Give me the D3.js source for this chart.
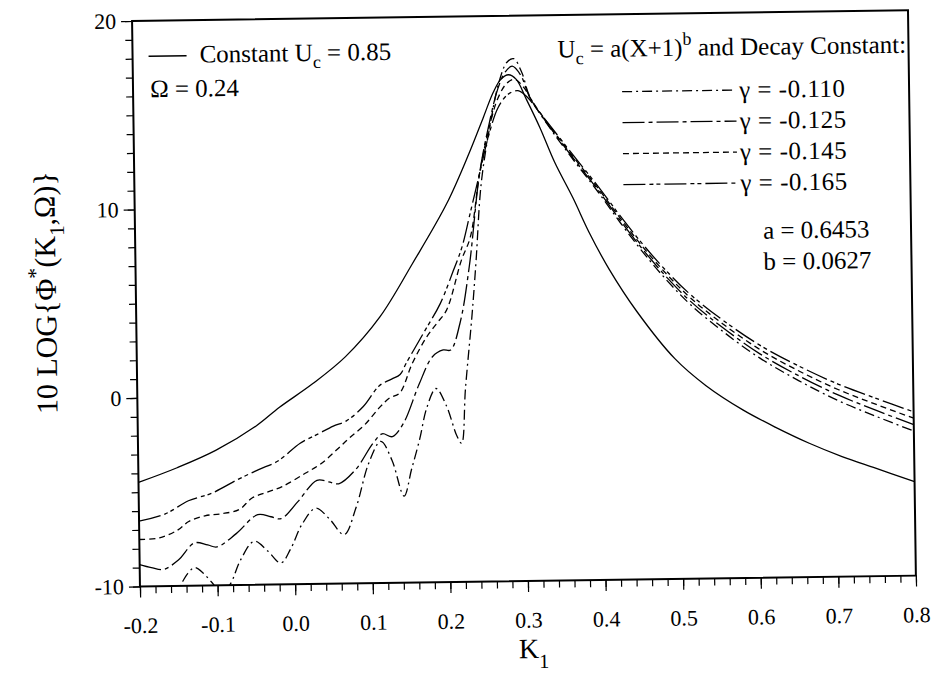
<!DOCTYPE html>
<html><head><meta charset="utf-8">
<script src="https://cdn.jsdelivr.net/npm/d3@7"></script>
<style>body{margin:0;background:#fff}text{font-family:"Liberation Serif","Times New Roman",serif;fill:#000}</style>
</head><body>
<svg id="c" width="936" height="678"></svg>
<script>
// ---- data (K1, 10 LOG value) ----
const constantUc = [[-0.20,-4.48],[-0.15,-3.73],[-0.10,-2.84],[-0.047,-1.56],[-0.017,-0.60],[0.026,0.62],[0.069,2.04],[0.114,4.12],[0.157,6.93],[0.202,10.07],[0.232,12.75],[0.251,14.64],[0.264,15.94],[0.274,16.63],[0.284,16.87],[0.294,16.62],[0.306,15.61],[0.3235,14.05],[0.342,12.19],[0.365,10.28],[0.385,8.46],[0.41,6.5],[0.445,4.23],[0.493,1.7],[0.533,0.23],[0.58,-1.08],[0.622,-2.03],[0.665,-2.9],[0.707,-3.63],[0.75,-4.27],[0.80,-5.01]];
const gamma165 = [[-0.20,-6.54],[-0.166,-6.17],[-0.136,-5.49],[-0.106,-5.11],[-0.071,-4.38],[-0.045,-3.89],[-0.020,-3.45],[0.009,-2.52],[0.033,-2.03],[0.052,-1.64],[0.069,-1.37],[0.091,-0.62],[0.112,0.47],[0.128,0.81],[0.139,1.05],[0.147,1.64],[0.170,3.24],[0.192,4.78],[0.209,6.47],[0.221,7.76],[0.232,9.52],[0.245,11.65],[0.258,13.74],[0.270,15.13],[0.283,15.83],[0.296,16.02],[0.308,15.66],[0.318,15.15],[0.338,14.07],[0.367,12.5],[0.397,10.91],[0.426,9.27],[0.455,7.73],[0.485,6.3],[0.515,5.06],[0.555,3.72],[0.603,2.34],[0.653,1.2],[0.703,0.22],[0.752,-0.57],[0.80,-1.31]];
const gamma145 = [[-0.20,-7.51],[-0.174,-7.44],[-0.150,-7.03],[-0.136,-6.59],[-0.115,-6.3],[-0.095,-6.21],[-0.071,-6.0],[-0.054,-5.39],[-0.035,-5.1],[-0.015,-4.81],[0.015,-4.12],[0.035,-3.64],[0.056,-2.9],[0.073,-2.26],[0.093,-1.57],[0.112,-0.68],[0.125,-0.19],[0.138,0.06],[0.155,1.64],[0.174,3.03],[0.188,3.78],[0.200,4.43],[0.220,7.06],[0.232,8.29],[0.245,11.65],[0.258,14.04],[0.270,15.63],[0.282,16.43],[0.292,16.62],[0.304,16.16],[0.314,15.46],[0.338,14.02],[0.367,12.42],[0.397,10.81],[0.426,9.15],[0.455,7.59],[0.485,6.14],[0.515,4.88],[0.555,3.52],[0.603,2.11],[0.653,0.94],[0.703,-0.07],[0.752,-0.89],[0.80,-1.65]];
const gamma125 = [[-0.20,-8.84],[-0.185,-9.01],[-0.170,-9.12],[-0.150,-8.63],[-0.129,-7.73],[-0.112,-7.85],[-0.100,-7.96],[-0.075,-7.27],[-0.047,-6.28],[-0.030,-6.4],[-0.017,-6.51],[0.005,-5.62],[0.030,-4.5],[0.045,-4.59],[0.058,-4.7],[0.080,-3.96],[0.103,-2.57],[0.115,-2.08],[0.128,-2.24],[0.143,-1.5],[0.163,0.49],[0.181,1.97],[0.195,2.32],[0.2045,2.31],[0.217,3.71],[0.230,6.7],[0.245,11.65],[0.258,14.24],[0.270,16.13],[0.280,17.03],[0.289,17.32],[0.300,16.82],[0.311,15.66],[0.338,13.97],[0.367,12.34],[0.397,10.71],[0.426,9.03],[0.455,7.45],[0.485,5.98],[0.515,4.7],[0.555,3.32],[0.603,1.88],[0.653,0.68],[0.703,-0.36],[0.752,-1.21],[0.80,-1.99]];
const gamma110 = [[-0.20,-10.6],[-0.185,-10.91],[-0.170,-11.22],[-0.158,-10.62],[-0.148,-9.98],[-0.138,-9.34],[-0.129,-9.04],[-0.118,-9.35],[-0.108,-9.8],[-0.095,-10.36],[-0.084,-9.97],[-0.070,-8.68],[-0.052,-7.69],[-0.035,-8.2],[-0.018,-8.86],[-0.005,-8.11],[0.010,-6.82],[0.028,-5.98],[0.045,-6.54],[0.064,-7.4],[0.080,-5.96],[0.097,-3.63],[0.113,-2.48],[0.127,-3.49],[0.142,-5.4],[0.152,-4.0],[0.163,-2.41],[0.173,-0.71],[0.185,0.28],[0.198,-0.63],[0.211,-2.24],[0.217,-2.64],[0.223,0.26],[0.233,4.25],[0.239,7.05],[0.247,11.14],[0.260,14.34],[0.272,16.53],[0.282,17.52],[0.291,17.72],[0.301,17.01],[0.311,15.71],[0.338,13.92],[0.367,12.26],[0.397,10.61],[0.426,8.91],[0.455,7.31],[0.485,5.82],[0.515,4.52],[0.555,3.12],[0.603,1.65],[0.653,0.42],[0.703,-0.66],[0.752,-1.53],[0.80,-2.33]];

const xTickValues = [-0.2,-0.1,0.0,0.1,0.2,0.3,0.4,0.5,0.6,0.7,0.8];
const xTickLabels = ["-0.2","-0.1","0.0","0.1","0.2","0.3","0.4","0.5","0.6","0.7","0.8"];
const yTickValues = [-10,0,10,20];
const yTickLabels = ["-10","0","10","20"];
const gammaLabels = ["γ = -0.110","γ = -0.125","γ = -0.145","γ = -0.165"];

// ---- drawing ----
const svg = d3.select("#c");
const g = svg.append("g").attr("transform","rotate(-0.8,528,300)");
const x = d3.scaleLinear().domain([-0.2,0.8]).range([136,912]);
const y = d3.scaleLinear().domain([-10,20]).range([581,15.5]);

svg.append("defs").append("clipPath").attr("id","clip")
  .append("rect").attr("x",136).attr("y",15.5).attr("width",776).attr("height",565.5);

const xMinor = d3.range(0,51).map(i => -0.2 + i*0.02);
g.append("g").attr("transform","translate(0,581)")
  .call(d3.axisBottom(x).tickValues(xMinor).tickSize(7).tickFormat(""))
  .call(a => a.select(".domain").remove());
g.append("g").attr("transform","translate(0,581)")
  .call(d3.axisBottom(x).tickValues(xTickValues).tickSize(11).tickPadding(20)
    .tickFormat((d,i) => xTickLabels[i]))
  .call(a => a.select(".domain").remove())
  .call(a => a.selectAll("text").attr("font-size",22));

const yMinor = d3.range(-10,21);
g.append("g").attr("transform","translate(136,0)")
  .call(d3.axisLeft(y).tickValues(yMinor).tickSize(7).tickFormat(""))
  .call(a => a.select(".domain").remove());
g.append("g").attr("transform","translate(136,0)")
  .call(d3.axisLeft(y).tickValues(yTickValues).tickSize(11).tickPadding(5)
    .tickFormat((d,i) => yTickLabels[i]))
  .call(a => a.select(".domain").remove())
  .call(a => a.selectAll("text").attr("font-size",22));
g.selectAll(".tick line").attr("stroke","#000").attr("stroke-width",1.2);

g.append("rect").attr("x",136).attr("y",15.5).attr("width",776).attr("height",565.5)
  .attr("fill","none").attr("stroke","#000").attr("stroke-width",2);

const line = d3.line().x(d => x(d[0])).y(d => y(d[1])).curve(d3.curveCatmullRom.alpha(0.5));
const series = [
  {data: constantUc, dash: null},
  {data: gamma110, dash: "10,4,2,4"},
  {data: gamma125, dash: "22,4,4,4"},
  {data: gamma145, dash: "6,4"},
  {data: gamma165, dash: "22,4,4,3,4,4"}
];
const plot = g.append("g").attr("clip-path","url(#clip)");
series.forEach(s => {
  plot.append("path").attr("d", line(s.data)).attr("fill","none")
    .attr("stroke","#000").attr("stroke-width",1.3)
    .attr("stroke-dasharray", s.dash);
});

// legend left
g.append("line").attr("x1",152).attr("x2",190).attr("y1",51).attr("y2",51).attr("stroke","#000").attr("stroke-width",1.5);
const t1 = g.append("text").attr("x",203).attr("y",58).attr("font-size",25);
t1.append("tspan").text("Constant U");
t1.append("tspan").attr("dy",7).attr("font-size",18).text("c");
t1.append("tspan").attr("dy",-7).text(" = 0.85");
g.append("text").attr("x",153).attr("y",92).attr("font-size",25).text("Ω = 0.24");

// legend right
const t2 = g.append("text").attr("x",561).attr("y",58).attr("font-size",25);
t2.append("tspan").text("U");
t2.append("tspan").attr("dy",7).attr("font-size",18).text("c");
t2.append("tspan").attr("dy",-7).text(" = a(X+1)");
t2.append("tspan").attr("dy",-11).attr("font-size",18).text("b");
t2.append("tspan").attr("dy",11).text(" and Decay Constant:");

const legendDash = ["10,4,2,4","22,4,4,4","6,4","22,4,4,3,4,4"];
gammaLabels.forEach((lab,i) => {
  const by = 101 + i*31;
  g.append("line").attr("x1",625).attr("x2",739).attr("y1",by-8).attr("y2",by-8)
    .attr("stroke","#000").attr("stroke-width",1.3).attr("stroke-dasharray",legendDash[i]);
  g.append("text").attr("x",742).attr("y",by).attr("font-size",25).attr("letter-spacing",0.5).text(lab);
});
g.append("text").attr("x",764).attr("y",242).attr("font-size",25).text("a = 0.6453");
g.append("text").attr("x",764).attr("y",273).attr("font-size",25).text("b = 0.0627");

// axis titles
const xt = g.append("text").attr("x",514).attr("y",658).attr("font-size",28);
xt.append("tspan").text("K");
xt.append("tspan").attr("dy",10).attr("font-size",20).text("1");

const yt = g.append("text").attr("transform","translate(56,286) rotate(-90)")
  .attr("text-anchor","middle").attr("font-size",30);
yt.append("tspan").text("10 LOG{Φ");
yt.append("tspan").attr("dy",-13).attr("font-size",22).text("*");
yt.append("tspan").attr("dy",13).text("(K");
yt.append("tspan").attr("dy",9).attr("font-size",21).text("1");
yt.append("tspan").attr("dy",-9).text(",Ω)}");
</script>
</body></html>
